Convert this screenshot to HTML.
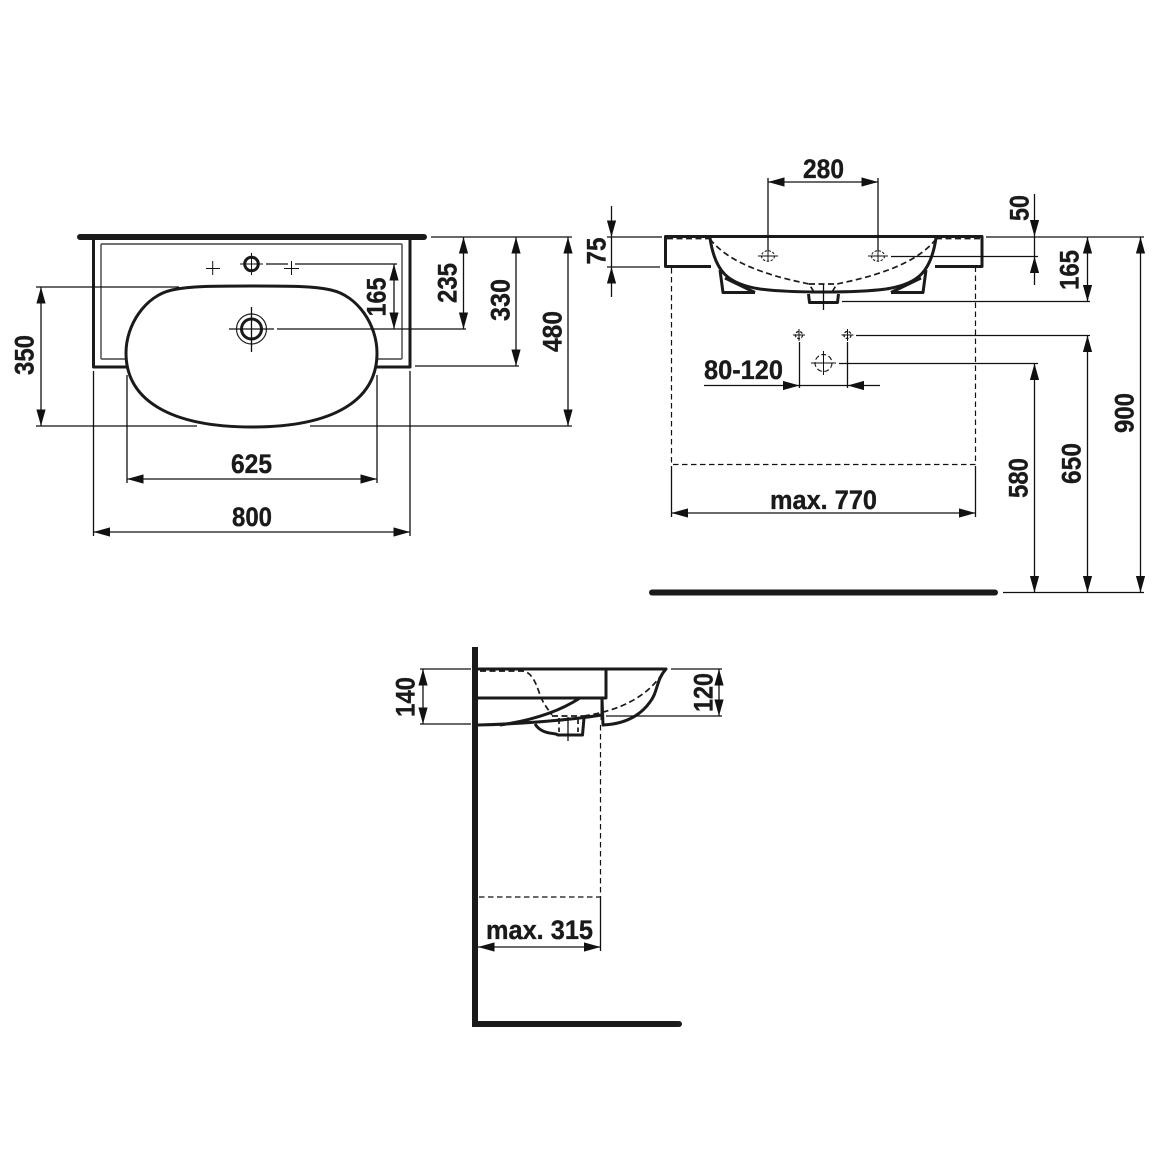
<!DOCTYPE html>
<html><head><meta charset="utf-8"><style>
html,body{margin:0;padding:0;background:#fff}
svg{display:block}
text{font-family:"Liberation Sans",sans-serif;font-weight:bold;font-size:27px;fill:#1a1a1a;stroke:#1a1a1a;stroke-width:.35;text-anchor:middle}
.d{stroke:#111;stroke-width:1.3;fill:none}
.a{marker-start:url(#ar);marker-end:url(#ar)}
.e{marker-end:url(#ar)}
.t{stroke:#1a1a1a;stroke-width:3;fill:none;stroke-linejoin:round}
.h{stroke:#1a1a1a;stroke-width:1.7;fill:none;stroke-dasharray:6 3.5}
.k{stroke:#111;stroke-width:1.2;fill:none;stroke-dasharray:5.5 3.5}
.s{stroke:#1a1a1a;stroke-width:6;fill:none;stroke-linecap:round}
</style></head><body>
<svg width="1166" height="1166" viewBox="0 0 1166 1166" xmlns="http://www.w3.org/2000/svg">
<defs>
<marker id="ar" markerUnits="userSpaceOnUse" markerWidth="17" markerHeight="10" refX="16.5" refY="5" orient="auto-start-reverse"><path d="M0,.4L16.5,5L0,9.6z" fill="#111"/></marker>
<g id="smallhole"><circle r="3.6" fill="none" stroke="#222" stroke-width="1.3" stroke-dasharray="3 1.5"/><path d="M-6,0H6M0,-6V6" stroke="#111" stroke-width="1"/></g>
<g id="ophole"><ellipse rx="6.500" ry="5.200" fill="none" stroke="#222" stroke-width="1.100" stroke-dasharray="2.500 1.500"/><path d="M-10,0H10M0,-5V5" stroke="#111" stroke-width="1"/></g>
</defs>

<!-- TOP VIEW -->
<path d="M80,237H424" class="s"/>
<path d="M93.500,237V367H127M410,237V367H377" class="t"/>
<path d="M127,359H102Q101,359 101,358V245Q101,244 102,244H401Q402,244 402,245V358Q402,359 401,359H377" fill="none" stroke="#444" stroke-width="1.400"/>
<path d="M252,286C289,286 314,286 331,290C358,296 377,325 377,353C377,400 334,427 252,427C170,427 126,400 126,353C126,325 145,296 172,290C190,286 215,286 252,286Z" fill="#fff" stroke="#1a1a1a" stroke-width="3"/>
<circle cx="251.500" cy="264" r="6.800" fill="none" stroke="#1a1a1a" stroke-width="3"/>
<path d="M240,264H263M251.500,253V275M206,268.500H220M212.700,261V275M284,268.500H299M291.500,261V275" class="d" style="stroke-width:1"/>
<path d="M266,264H288" class="d"/>
<circle cx="251.500" cy="329" r="15" fill="none" stroke="#222" stroke-width="1.200"/>
<circle cx="251.500" cy="329" r="10" fill="none" stroke="#1a1a1a" stroke-width="3"/>
<path d="M229,329H274M251.500,307V352" class="d"/>

<path d="M295,264H397M277,329H466M431,237H572M415,366H519M36,287H179M36,426H197M310,426H572" class="d"/>
<path d="M394,264V329" class="d a"/>
<path d="M463.500,237V329" class="d a"/>
<path d="M516,237V366" class="d a"/>
<path d="M568,237V426" class="d a"/>
<path d="M41,287V426" class="d a"/>
<path d="M127,479H377" class="d a"/>
<path d="M93.500,532H410" class="d a"/>
<path d="M93.500,371V536M410,371V536M127,375V483M377,375V483" class="d"/>

<text transform="translate(376,297) rotate(-90)" y="9.500" textLength="39" lengthAdjust="spacingAndGlyphs">165</text>
<text transform="translate(447,283) rotate(-90)" y="9.500" textLength="40" lengthAdjust="spacingAndGlyphs">235</text>
<text transform="translate(500,300) rotate(-90)" y="9.500" textLength="42" lengthAdjust="spacingAndGlyphs">330</text>
<text transform="translate(552,331.500) rotate(-90)" y="9.500" textLength="41" lengthAdjust="spacingAndGlyphs">480</text>
<text transform="translate(24,355) rotate(-90)" y="9.500" textLength="40" lengthAdjust="spacingAndGlyphs">350</text>
<text x="251.500" y="473" textLength="41" lengthAdjust="spacingAndGlyphs">625</text>
<text x="252" y="526" textLength="40" lengthAdjust="spacingAndGlyphs">800</text>

<!-- FRONT VIEW -->
<path d="M710,238C715,272 728,284 760,289C790,293 856,293 886,289C918,284 931,272 936,238" class="t"/>
<path d="M711,266.500H665.500V236.500H982V266.500H935" class="t"/>
<path d="M720,270L723,292.500H755M725,278L755,292.500M926,270L923,292.500H891M921,278L891,292.500" class="t"/>
<path d="M808.500,294L809.500,302.500H837.500L838.500,294" class="t"/>
<path d="M710,239C730,265 775,277 809,284L814,292M936,239C916,265 871,277 837,284L832,292M809,284H837M667,238.500H710M936,238.500H980" class="h"/>
<path d="M823.500,284V310" class="d"/>
<use href="#ophole" x="768" y="256"/><use href="#ophole" x="878" y="256"/>
<use href="#smallhole" x="799" y="335"/><use href="#smallhole" x="847.500" y="335"/>
<circle cx="823.500" cy="363" r="8.500" fill="none" stroke="#222" stroke-width="1.200" stroke-dasharray="5 2.500"/>
<path d="M811,363H836M823.500,351V375" class="d" style="stroke-width:1"/>
<path d="M671.500,268V464.500H975.500V268" class="k"/>

<path d="M768,178V251M878,178V251M607,237H662M607,267H660M986,237H1144M891,256.500H1038M842,301.500H1090M856,335.500H1090M839,363.500H1038M1003,592.500H1144M671.500,466V517M975.500,466V517M799.500,342V388M847.500,342V388" class="d"/>
<path d="M768,182H878" class="d a"/>
<path d="M611.500,206V237" class="d e"/>
<path d="M611.500,297V267" class="d e"/>
<path d="M1034.500,194V236.500" class="d e"/>
<path d="M1034.500,285V256.500" class="d e"/>
<path d="M611.500,237V267M1034.500,236.500V256.500" class="d"/>
<path d="M1087.500,237V301.500" class="d a"/>
<path d="M1140.500,237V592.500" class="d a"/>
<path d="M1087.500,335.500V592.500" class="d a"/>
<path d="M1034.500,363.500V592.500" class="d a"/>
<path d="M671.500,513H975.500" class="d a"/>
<path d="M704,385.500H799.500" class="d e"/>
<path d="M880,385.500H847.500" class="d e"/>
<path d="M799.500,385.500H847.500" class="d"/>
<path d="M652,592.500H995" class="s"/>

<text x="823.500" y="178" textLength="41" lengthAdjust="spacingAndGlyphs">280</text>
<text transform="translate(596,251) rotate(-90)" y="9.500" textLength="27" lengthAdjust="spacingAndGlyphs">75</text>
<text transform="translate(1019,208) rotate(-90)" y="9.500" textLength="26" lengthAdjust="spacingAndGlyphs">50</text>
<text transform="translate(1069,270) rotate(-90)" y="9.500" textLength="40" lengthAdjust="spacingAndGlyphs">165</text>
<text transform="translate(1124,413) rotate(-90)" y="9.500" textLength="40" lengthAdjust="spacingAndGlyphs">900</text>
<text transform="translate(1071,463.500) rotate(-90)" y="9.500" textLength="41" lengthAdjust="spacingAndGlyphs">650</text>
<text transform="translate(1018,478) rotate(-90)" y="9.500" textLength="40" lengthAdjust="spacingAndGlyphs">580</text>
<text x="743.500" y="379" textLength="79" lengthAdjust="spacingAndGlyphs">80-120</text>
<text x="823.500" y="509" textLength="107" lengthAdjust="spacingAndGlyphs">max. 770</text>

<!-- SIDE VIEW -->
<path d="M475,647V1024H678" class="s" style="stroke-linecap:butt"/>
<path d="M677,1024H679" class="s"/>
<path d="M478,669H666C656,680 658,692 650,702C640,716 625,724 603,725L602,698M606,669V698H478M602,698V720" class="t"/>
<path d="M478,725C520,724 570,720 602,715M500,725C535,720 560,711 580,698" class="t"/>
<path d="M535,724C540,732 548,733 556,734L558,735H582.500L584,718" class="t"/>
<path d="M480,671H522C530,671 535,680 539,692C542,702 547,708 552,715M552,716H584M584,716C610,712 645,702 664,671M559,718V732M578,718V732" class="h"/>
<path d="M568,717V741" class="d"/>
<path d="M600.500,725V897H478" class="k"/>
<path d="M420,669H471M671,669H722M420,724H471M606,716H722M600.500,897V951" class="d"/>
<path d="M423,669V724" class="d a"/>
<path d="M719,669V716" class="d a"/>
<path d="M478,947H600.500" class="d a"/>
<text transform="translate(405,697) rotate(-90)" y="9.500" textLength="40" lengthAdjust="spacingAndGlyphs">140</text>
<text transform="translate(703,692.500) rotate(-90)" y="9.500" textLength="39" lengthAdjust="spacingAndGlyphs">120</text>
<text x="539.500" y="939" textLength="107" lengthAdjust="spacingAndGlyphs">max. 315</text>
</svg>
</body></html>
